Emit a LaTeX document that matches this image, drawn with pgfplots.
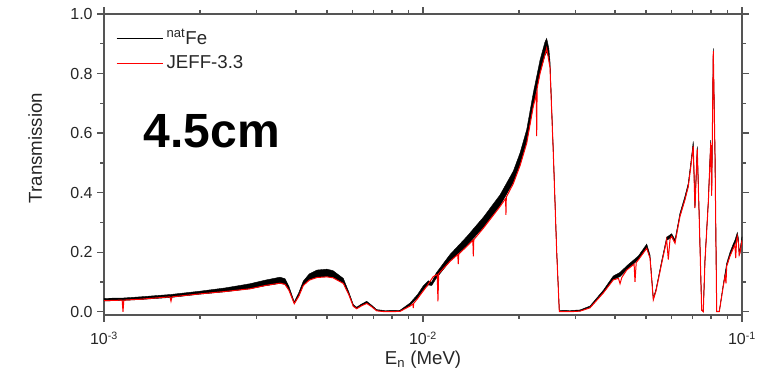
\documentclass[border=0pt]{standalone}
\usepackage{pgfplots}
\pgfplotsset{compat=1.18}
\usepgfplotslibrary{fillbetween}
\usepackage{fontspec}
\setmainfont{Liberation Sans}
\definecolor{axgray}{RGB}{85,85,85}
\begin{document}
\begin{tikzpicture}
\begin{axis}[
  at={(0,0)}, anchor=south west,
  scale only axis, width=478.5pt, height=225.75pt,
  xmode=log, xmin=1e-3, xmax=1e-1,
  ymin=-0.011, ymax=1.0,
  xtick={0.001,0.01,0.1},
  xticklabels={10\textsuperscript{-3},10\textsuperscript{-2},10\textsuperscript{-1}},
  ytick={0,0.2,0.4,0.6,0.8,1.0},
  yticklabels={0.0,0.2,0.4,0.6,0.8,1.0},
  minor y tick num=1,
  tick align=outside,
  major tick length=5pt, minor tick length=3pt,
  axis line style={axgray, line width=1.2pt},
  every tick/.style={axgray, line width=1pt},
  tick label style={font=\fontsize{12}{14}\selectfont, text=black!85},
  xticklabel style={yshift=-4pt},
  xlabel={E\textsubscript{n} (MeV)},
  ylabel={Transmission},
  xlabel style={at={(axis description cs:0.5,-0.166)}, anchor=base, font=\fontsize{14}{16}\selectfont, text=black!85},
  ylabel style={at={(axis description cs:-0.108,0.555)}, anchor=center, font=\fontsize{14}{16}\selectfont, text=black!85},
  legend style={at={(axis description cs:0.0125,0.967)}, anchor=north west, draw=none, fill=none,
    font=\fontsize{14}{16}\selectfont, row sep=2.5pt, text=black!85},
  legend cell align=left,
  legend image code/.code={\draw[#1] (0pt,0pt) -- (35pt,0pt);},
]
% measured natFe: noisy band between lower and upper edges
\addplot[black, line width=0.3pt, name path=up, forget plot] table[x index=0, y index=2] {
1.000e-3 0.036 0.045
1.147e-3 0.038 0.046
1.3e-3 0.041 0.050
1.622e-3 0.048 0.058
2.0e-3 0.059 0.069
2.4e-3 0.067 0.080
2.869e-3 0.077 0.094
3.2e-3 0.087 0.106
3.562e-3 0.095 0.116
3.693e-3 0.092 0.111
3.8e-3 0.073 0.085
3.95e-3 0.027 0.033
4.08e-3 0.053 0.064
4.215e-3 0.089 0.103
4.4e-3 0.107 0.127
4.654e-3 0.116 0.140
5.0e-3 0.118 0.143
5.223e-3 0.115 0.138
5.626e-3 0.096 0.112
5.85e-3 0.059 0.067
6.047e-3 0.019 0.024
6.197e-3 0.011 0.015
6.4e-3 0.020 0.025
6.661e-3 0.029 0.035
6.9e-3 0.018 0.022
7.158e-3 0.004 0.007
7.6e-3 0.001 0.004
8.473e-3 0.002 0.005
9.105e-3 0.021 0.029
9.6e-3 0.046 0.057
1.002e-2 0.074 0.087
1.04e-2 0.090 0.104
1.065e-2 0.088 0.099
1.1e-2 0.112 0.130
1.215e-2 0.170 0.192
1.371e-2 0.222 0.252
1.545e-2 0.283 0.317
1.743e-2 0.356 0.392
1.919e-2 0.434 0.472
2.014e-2 0.493 0.533
2.114e-2 0.570 0.612
2.217e-2 0.692 0.735
2.327e-2 0.802 0.845
2.41e-2 0.860 0.905
2.442e-2 0.872 0.918
2.48e-2 0.855 0.885
2.501e-2 0.822 0.842
2.562e-2 0.53 0.54
2.625e-2 0.2 0.205
2.675e-2 0.001 0.005
2.89e-2 0.0 0.004
3.106e-2 0.002 0.006
3.338e-2 0.014 0.019
3.675e-2 0.064 0.072
3.95e-2 0.108 0.120
4.146e-2 0.118 0.132
4.351e-2 0.141 0.154
4.731e-2 0.175 0.187
5.027e-2 0.214 0.227
5.148e-2 0.181 0.191
5.272e-2 0.041 0.046
5.376e-2 0.071 0.076
5.602e-2 0.164 0.172
5.806e-2 0.240 0.250
6.020e-2 0.250 0.262
6.166e-2 0.232 0.242
6.39e-2 0.321 0.331
6.625e-2 0.377 0.388
6.785e-2 0.421 0.432
6.953e-2 0.511 0.525
7.034e-2 0.556 0.572
7.121e-2 0.349 0.356
7.241e-2 0.546 0.555
7.346e-2 0.311 0.318
7.475e-2 0.006 0.008
7.562e-2 0.0 0.002
7.656e-2 0.171 0.176
7.842e-2 0.366 0.374
7.979e-2 0.568 0.576
8.035e-2 0.39 0.40
8.128e-2 0.876 0.885
8.229e-2 0.53 0.535
8.331e-2 0.0 0.002
8.488e-2 0.0 0.002
8.738e-2 0.087 0.093
8.954e-2 0.154 0.163
9.171e-2 0.188 0.200
9.392e-2 0.214 0.228
9.50e-2 0.226 0.240
9.667e-2 0.254 0.266
9.75e-2 0.232 0.245
9.80e-2 0.192 0.202
9.856e-2 0.198 0.210
1.0e-1 0.241 0.252
};
\addplot[black, line width=0.3pt, name path=lo, forget plot] table[x index=0, y index=1] {
1.000e-3 0.036 0.045
1.147e-3 0.038 0.046
1.3e-3 0.041 0.050
1.622e-3 0.048 0.058
2.0e-3 0.059 0.069
2.4e-3 0.067 0.080
2.869e-3 0.077 0.094
3.2e-3 0.087 0.106
3.562e-3 0.095 0.116
3.693e-3 0.092 0.111
3.8e-3 0.073 0.085
3.95e-3 0.027 0.033
4.08e-3 0.053 0.064
4.215e-3 0.089 0.103
4.4e-3 0.107 0.127
4.654e-3 0.116 0.140
5.0e-3 0.118 0.143
5.223e-3 0.115 0.138
5.626e-3 0.096 0.112
5.85e-3 0.059 0.067
6.047e-3 0.019 0.024
6.197e-3 0.011 0.015
6.4e-3 0.020 0.025
6.661e-3 0.029 0.035
6.9e-3 0.018 0.022
7.158e-3 0.004 0.007
7.6e-3 0.001 0.004
8.473e-3 0.002 0.005
9.105e-3 0.021 0.029
9.6e-3 0.046 0.057
1.002e-2 0.074 0.087
1.04e-2 0.090 0.104
1.065e-2 0.088 0.099
1.1e-2 0.112 0.130
1.215e-2 0.170 0.192
1.371e-2 0.222 0.252
1.545e-2 0.283 0.317
1.743e-2 0.356 0.392
1.919e-2 0.434 0.472
2.014e-2 0.493 0.533
2.114e-2 0.570 0.612
2.217e-2 0.692 0.735
2.327e-2 0.802 0.845
2.41e-2 0.860 0.905
2.442e-2 0.872 0.918
2.48e-2 0.855 0.885
2.501e-2 0.822 0.842
2.562e-2 0.53 0.54
2.625e-2 0.2 0.205
2.675e-2 0.001 0.005
2.89e-2 0.0 0.004
3.106e-2 0.002 0.006
3.338e-2 0.014 0.019
3.675e-2 0.064 0.072
3.95e-2 0.108 0.120
4.146e-2 0.118 0.132
4.351e-2 0.141 0.154
4.731e-2 0.175 0.187
5.027e-2 0.214 0.227
5.148e-2 0.181 0.191
5.272e-2 0.041 0.046
5.376e-2 0.071 0.076
5.602e-2 0.164 0.172
5.806e-2 0.240 0.250
6.020e-2 0.250 0.262
6.166e-2 0.232 0.242
6.39e-2 0.321 0.331
6.625e-2 0.377 0.388
6.785e-2 0.421 0.432
6.953e-2 0.511 0.525
7.034e-2 0.556 0.572
7.121e-2 0.349 0.356
7.241e-2 0.546 0.555
7.346e-2 0.311 0.318
7.475e-2 0.006 0.008
7.562e-2 0.0 0.002
7.656e-2 0.171 0.176
7.842e-2 0.366 0.374
7.979e-2 0.568 0.576
8.035e-2 0.39 0.40
8.128e-2 0.876 0.885
8.229e-2 0.53 0.535
8.331e-2 0.0 0.002
8.488e-2 0.0 0.002
8.738e-2 0.087 0.093
8.954e-2 0.154 0.163
9.171e-2 0.188 0.200
9.392e-2 0.214 0.228
9.50e-2 0.226 0.240
9.667e-2 0.254 0.266
9.75e-2 0.232 0.245
9.80e-2 0.192 0.202
9.856e-2 0.198 0.210
1.0e-1 0.241 0.252
};
\addplot[black, forget plot] fill between[of=up and lo];
\addlegendimage{black, line width=0.5pt}
\addlegendentry{\textsuperscript{nat}Fe}
% JEFF-3.3 evaluation
\addplot[red, line width=0.75pt] table {
1.000e-3 0.037
1.140e-3 0.039
1.147e-3 0.0
1.154e-3 0.039
1.3e-3 0.042
1.610e-3 0.050
1.622e-3 0.035
1.634e-3 0.050
2.0e-3 0.060
2.4e-3 0.068
2.869e-3 0.077
3.2e-3 0.088
3.562e-3 0.096
3.693e-3 0.092
3.8e-3 0.072
3.95e-3 0.027
4.08e-3 0.052
4.215e-3 0.088
4.4e-3 0.106
4.654e-3 0.115
5.0e-3 0.117
5.223e-3 0.114
5.626e-3 0.095
5.85e-3 0.058
6.047e-3 0.018
6.197e-3 0.010
6.4e-3 0.019
6.661e-3 0.028
6.9e-3 0.017
7.158e-3 0.003
7.6e-3 0.0
8.473e-3 0.001
9.105e-3 0.019
9.30e-3 0.026
9.324e-3 0.012
9.35e-3 0.028
9.6e-3 0.043
1.002e-2 0.070
1.027e-2 0.085
1.077e-2 0.118
1.108e-2 0.125
1.114e-2 0.035
1.120e-2 0.128
1.215e-2 0.169
1.285e-2 0.192
1.290e-2 0.160
1.295e-2 0.194
1.371e-2 0.219
1.433e-2 0.240
1.438e-2 0.186
1.443e-2 0.242
1.545e-2 0.280
1.743e-2 0.353
1.815e-2 0.380
1.820e-2 0.325
1.825e-2 0.385
1.919e-2 0.430
2.014e-2 0.490
2.114e-2 0.566
2.217e-2 0.690
2.265e-2 0.730
2.272e-2 0.590
2.279e-2 0.750
2.327e-2 0.800
2.442e-2 0.885
2.501e-2 0.820
2.562e-2 0.530
2.625e-2 0.200
2.675e-2 0.0
2.89e-2 0.0
3.106e-2 0.002
3.338e-2 0.013
3.675e-2 0.063
3.95e-2 0.107
4.10e-2 0.112
4.146e-2 0.094
4.20e-2 0.115
4.351e-2 0.140
4.59e-2 0.160
4.619e-2 0.100
4.66e-2 0.165
4.731e-2 0.174
5.027e-2 0.213
5.148e-2 0.180
5.272e-2 0.040
5.376e-2 0.070
5.602e-2 0.163
5.806e-2 0.242
5.875e-2 0.175
5.95e-2 0.245
6.020e-2 0.253
6.166e-2 0.230
6.39e-2 0.320
6.625e-2 0.376
6.785e-2 0.420
6.953e-2 0.510
7.034e-2 0.555
7.121e-2 0.348
7.241e-2 0.545
7.346e-2 0.310
7.475e-2 0.005
7.562e-2 0.0
7.656e-2 0.170
7.842e-2 0.365
7.979e-2 0.567
8.035e-2 0.390
8.128e-2 0.875
8.229e-2 0.530
8.331e-2 0.0
8.488e-2 0.0
8.738e-2 0.086
8.85e-2 0.120
8.91e-2 0.095
8.954e-2 0.153
9.171e-2 0.187
9.392e-2 0.213
9.50e-2 0.225
9.556e-2 0.180
9.62e-2 0.240
9.667e-2 0.253
9.75e-2 0.230
9.80e-2 0.190
9.856e-2 0.197
1.0e-1 0.240
};
\addlegendentry{JEFF-3.3}
\node[font=\fontsize{36}{40}\selectfont\bfseries] at (rel axis cs:0.169,0.611) {4.5cm};
\end{axis}
\pgfresetboundingbox
\path[use as bounding box] (-78pt,-47.25pt) rectangle (501pt,236.25pt);
\end{tikzpicture}
\end{document}
